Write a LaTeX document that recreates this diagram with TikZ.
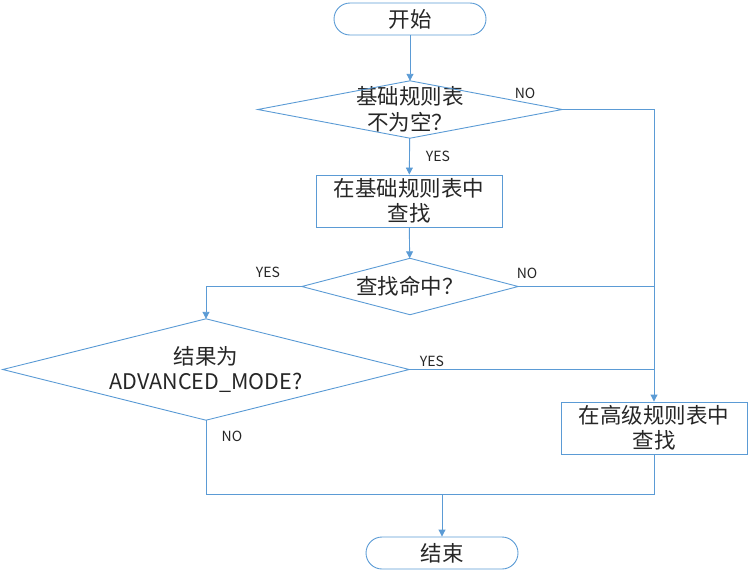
\documentclass[tikz,border=0pt]{standalone}
\usepackage{fontspec}
\setmainfont{Noto Sans CJK SC}
\usetikzlibrary{arrows.meta}
\definecolor{lineblue}{HTML}{5B9BD5}
\definecolor{txt}{HTML}{262626}
\tikzset{
  flow/.style={draw=lineblue,line width=0.9pt},
  arr/.style={flow,-{Triangle[width=7pt,length=7pt]}},
  term/.style={flow,rectangle,rounded corners=16pt,minimum width=152pt,minimum height=32pt,
    text=txt,font=\fontsize{21.5}{25}\selectfont},
  proc/.style={flow,rectangle,minimum width=186pt,minimum height=52pt,inner sep=0pt,
    align=center,text=txt,font=\fontsize{21.5}{25.5}\selectfont},
  decide/.style={rectangle,inner sep=0pt,align=center,text=txt,
    font=\fontsize{21.5}{25.5}\selectfont},
  tag/.style={text=txt,font=\fontsize{14}{16}\selectfont,inner sep=0pt}
}
\begin{document}
\begin{tikzpicture}[x=1pt,y=-1pt]
    \useasboundingbox (0,0) rectangle (751,574);
    \node[term] (start) at (410,19) {开始};
    \node[decide,minimum width=304pt,minimum height=57pt] (d1) at (410,109.5) {基础规则表\\不为空？};
    \node[proc] (b1) at (409,201) {在基础规则表中\\查找};
    \node[decide,minimum width=216pt,minimum height=56pt] (d2) at (410,286.5) {查找命中？};
    \node[decide,minimum width=406pt,minimum height=101pt] (d3) at (206,369.5) {结果为\\ADVANCED\_MODE?};
    \node[proc] (b2) at (654,428) {在高级规则表中\\查找};
    \node[term] (stop) at (442,553) {结束};
    \coordinate (join) at (442,494);

    % diamond outlines
    \foreach \d in {d1,d2,d3}
      \draw[flow] (\d.north) -- (\d.east) -- (\d.south) -- (\d.west) -- cycle;

    \node[tag] (no1) at (525,93) {NO};
    \node[tag] (yes1) at (438,156) {YES};
    \node[tag] (no2) at (527,273) {NO};
    \node[tag] (yes2) at (268,272) {YES};
    \node[tag] (yes3) at (432,361) {YES};
    \node[tag] (no3) at (232,436) {NO};

    \draw[arr] (start) -- (d1);
    \draw[arr] (d1) -- (b1);
    \draw[arr] (b1) -- (d2);
    \draw[arr] (d1.east) -| (b2.north);
    \draw[flow] (d2.east) -- (d2.east -| b2.north);
    \draw[flow] (d3.east) -- (d3.east -| b2.north);
    \draw[arr] (d2.west) -| (d3.north);
    \draw[flow] (d3.south) |- (join) -| (b2.south);
    \draw[arr] (join) -- (stop);
\end{tikzpicture}
\end{document}
